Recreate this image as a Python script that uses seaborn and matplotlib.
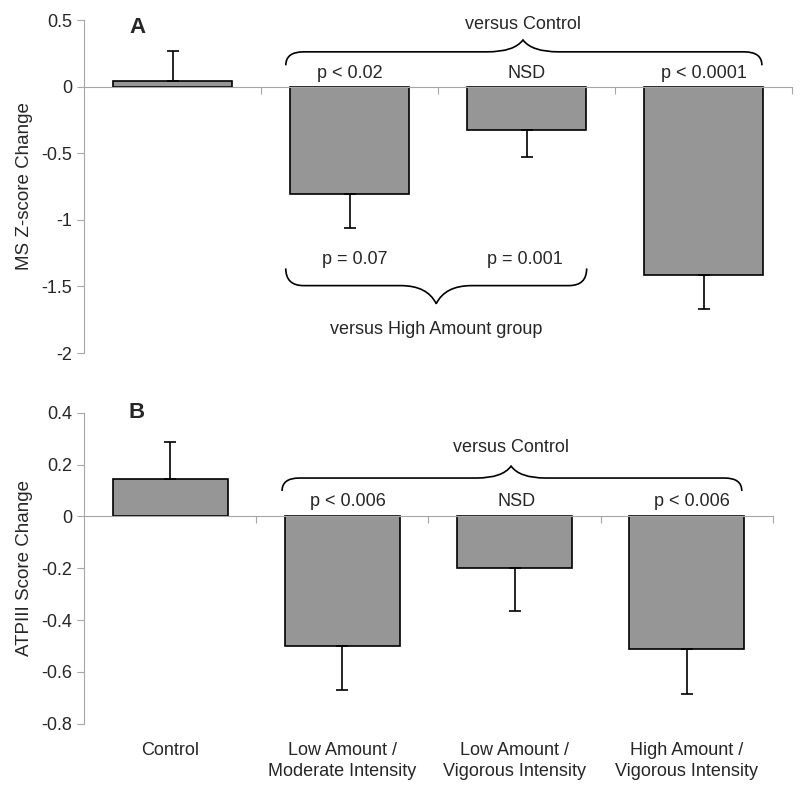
import numpy as np
import pandas as pd
import matplotlib.pyplot as plt
import seaborn as sns
from matplotlib.path import Path
from matplotlib.patches import PathPatch

# data
groups = ["Control", "Low Amount /\nModerate Intensity",
          "Low Amount /\nVigorous Intensity", "High Amount /\nVigorous Intensity"]
ms_change = [0.045, -0.807, -0.323, -1.414]
ms_se = [0.225, 0.255, 0.207, 0.256]
atp_change = [0.144, -0.50, -0.20, -0.513]
atp_se = [0.142, 0.17, 0.165, 0.172]

ms_labels_top = ["p < 0.02", "NSD", "p < 0.0001"]
ms_labels_high = ["p = 0.07", "p = 0.001"]
atp_labels_top = ["p < 0.006", "NSD", "p < 0.006"]

ms_ticks = [0.5, 0, -0.5, -1, -1.5, -2]
ms_ticklabels = ["0.5", "0", "-0.5", "-1", "-1.5", "-2"]
atp_ticks = [0.4, 0.2, 0, -0.2, -0.4, -0.6, -0.8]
atp_ticklabels = ["0.4", "0.2", "0", "-0.2", "-0.4", "-0.6", "-0.8"]

sns.set_style("white")
plt.rcParams['font.family'] = ['Liberation Sans', 'DejaVu Sans']
plt.rcParams['axes.unicode_minus'] = False

BAR = "#969696"
GRID = "#a6a6a6"
FS = 13


def brace(ax, x0, x1, xm, y_end, y_line, y_tip, dx_end=0.1, dx_tip=0.2):
    verts = [(x0, y_end), (x0, y_line), (x0 + dx_end, y_line),
             (xm - dx_tip, y_line),
             (xm - 0.25 * dx_tip, y_line), (xm, y_tip),
             (xm + 0.25 * dx_tip, y_line), (xm + dx_tip, y_line),
             (x1 - dx_end, y_line),
             (x1, y_line), (x1, y_end)]
    codes = [Path.MOVETO, Path.CURVE3, Path.CURVE3,
             Path.LINETO,
             Path.CURVE3, Path.CURVE3,
             Path.CURVE3, Path.CURVE3,
             Path.LINETO,
             Path.CURVE3, Path.CURVE3]
    ax.add_patch(PathPatch(Path(verts, codes), fill=False, lw=1.2,
                           edgecolor="black", clip_on=False))


def panel(ax, vals, se, ylim, ticks, ticklabels, ylabel):
    df = pd.DataFrame({"group": groups, "value": vals})
    sns.barplot(data=df, x="group", y="value", color=BAR, saturation=1,
                edgecolor="black", linewidth=1.2, width=0.667, ax=ax)
    v = np.array(vals)
    e = np.array(se)
    lower = np.where(v < 0, e, 0)
    upper = np.where(v > 0, e, 0)
    ax.errorbar(range(len(vals)), v, yerr=[lower, upper], fmt="none",
                ecolor="black", elinewidth=1.2, capsize=4.5, capthick=1.2)
    ax.set_xlim(-0.5, 3.5)
    ax.set_ylim(*ylim)
    ax.set_yticks(ticks)
    ax.set_yticklabels(ticklabels, fontsize=FS)
    ax.set_xticks([0.5, 1.5, 2.5, 3.5])
    ax.set_xticklabels([])
    ax.set_xlabel("")
    ax.set_ylabel(ylabel, fontsize=13.5, labelpad=6)
    for s in ["top", "right"]:
        ax.spines[s].set_visible(False)
    ax.spines["left"].set_color(GRID)
    ax.spines["bottom"].set_color(GRID)
    ax.spines["bottom"].set_position(("data", 0))
    ax.tick_params(axis="both", direction="out", length=5, color=GRID, width=0.8,
                   bottom=True, left=True)


fig = plt.figure(figsize=(8, 7.94), dpi=100)
ax1 = fig.add_axes([0.105, 0.5554, 0.885, 0.4194])
ax2 = fig.add_axes([0.105, 0.0885, 0.861, 0.3917])

# panel A
panel(ax1, ms_change, ms_se, (-2, 0.5), ms_ticks, ms_ticklabels, "MS Z-score Change")
ax1.text(-0.2, 0.444, "A", fontsize=16, fontweight="bold", ha="center", va="center")
brace(ax1, 0.64, 3.33, 1.98, 0.16, 0.261, 0.35)
ax1.text(1.98, 0.47, "versus Control", fontsize=FS, ha="center", va="center")
for x, lab in zip([1.0, 2.0, 3.0], ms_labels_top):
    ax1.text(x, 0.1, lab, fontsize=FS, ha="center", va="center")
brace(ax1, 0.64, 2.34, 1.49, -1.365, -1.494, -1.63)
for x, lab in zip([1.03, 1.99], ms_labels_high):
    ax1.text(x, -1.30, lab, fontsize=FS, ha="center", va="center")
ax1.text(1.49, -1.82, "versus High Amount group", fontsize=FS, ha="center", va="center")

# panel B
panel(ax2, atp_change, atp_se, (-0.8, 0.4), atp_ticks, atp_ticklabels, "ATPIII Score Change")
ax2.text(-0.196, 0.40, "B", fontsize=16, fontweight="bold", ha="center", va="center",
         clip_on=False)
brace(ax2, 0.65, 3.32, 1.98, 0.098, 0.148, 0.194)
ax2.text(1.98, 0.267, "versus Control", fontsize=FS, ha="center", va="center")
for x, lab in zip([1.03, 2.01, 3.03], atp_labels_top):
    ax2.text(x, 0.059, lab, fontsize=FS, ha="center", va="center")
for i, g in enumerate(groups):
    ax2.text(i, -0.871, g, fontsize=FS, ha="center", va="top",
             linespacing=1.3, clip_on=False)

fig.savefig("out.png", dpi=100)
